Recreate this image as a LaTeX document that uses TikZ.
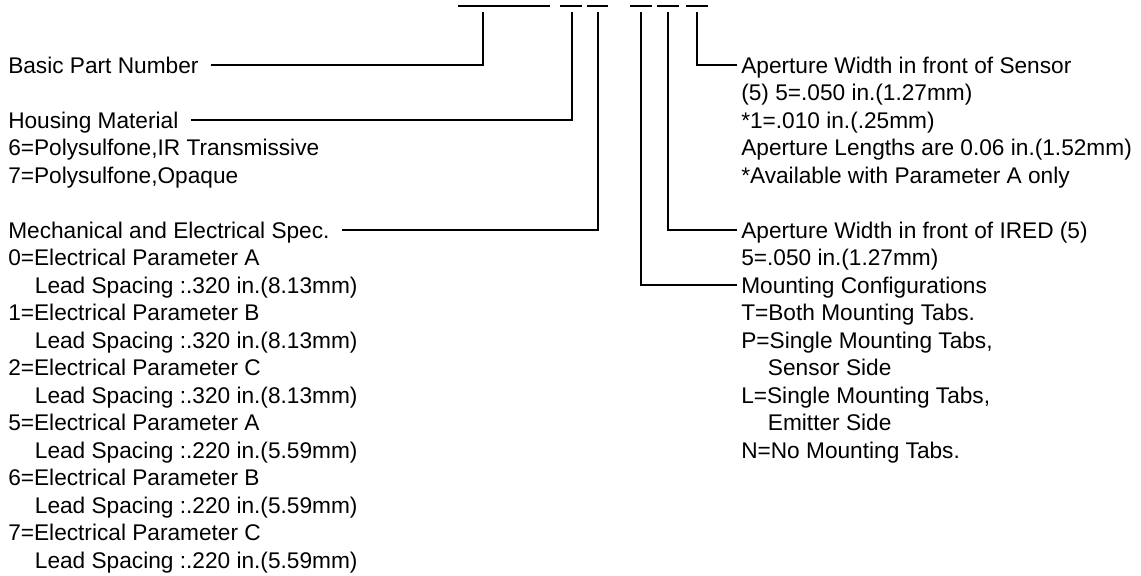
\documentclass[tikz,border=0pt]{standalone}
\usepackage{fontspec}
\setmainfont{Liberation Sans}
\usetikzlibrary{positioning}

\begin{document}
\begin{tikzpicture}[x=0.75pt,y=-0.75pt,
  lbl/.style={anchor=base west,inner sep=0pt,text height=12pt,text depth=0pt,
    font=\fontsize{17}{20.6}\selectfont},
  lead/.style={line width=1.5pt},
  bar/.style={line width=1pt}]
\useasboundingbox (0,0) rectangle (1141,575);

% part number blanks
\draw[bar] (458,6) -- (550,6);
\foreach \a/\b in {560/582,587/608,630/652,657/679,686/708}
  \draw[bar] (\a,6) -- (\b,6);

\coordinate (tBasic) at (483,12);
\coordinate (tHousing) at (572,12);
\coordinate (tMech) at (598,12);
\coordinate (tMount) at (641,12);
\coordinate (tIred) at (668,12);
\coordinate (tSensor) at (697,12);

% left column
\node[lbl] (basic) at (8,73) {Basic Part Number};
\node[lbl] (housing) at (8,128) {Housing Material};
\foreach \txt [count=\i from 3] in {{6=Polysulfone,IR Transmissive},{7=Polysulfone,Opaque}}
  \node[lbl] (h\i) at (8,73+27.5*\i) {\txt};
\node[lbl] (mech) at (8,238) {Mechanical and Electrical Spec.};
\foreach \txt [count=\i from 7] in {
  0=Electrical Parameter A,{\hspace*{20pt}Lead Spacing :.320 in.(8.13mm)},
  1=Electrical Parameter B,{\hspace*{20pt}Lead Spacing :.320 in.(8.13mm)},
  2=Electrical Parameter C,{\hspace*{20pt}Lead Spacing :.320 in.(8.13mm)},
  5=Electrical Parameter A,{\hspace*{20pt}Lead Spacing :.220 in.(5.59mm)},
  6=Electrical Parameter B,{\hspace*{20pt}Lead Spacing :.220 in.(5.59mm)},
  7=Electrical Parameter C,{\hspace*{20pt}Lead Spacing :.220 in.(5.59mm)}}
  \node[lbl] (m\i) at (8,73+27.5*\i) {\txt};

% right column
\node[lbl] (sensor) at (741,73) {Aperture Width in front of Sensor};
\foreach \txt [count=\i from 1] in {(5) 5=.050 in.(1.27mm),*1=.010 in.(.25mm),
  Aperture Lengths are 0.06 in.(1.52mm),*Available with Parameter A only}
  \node[lbl] (s\i) at (741,73+27.5*\i) {\txt};
\node[lbl] (ired) at (741,238) {Aperture Width in front of IRED (5)};
\node[lbl] (i7) at (741,265.5) {5=.050 in.(1.27mm)};
\node[lbl] (mount) at (741,293) {Mounting Configurations};
\foreach \txt [count=\i from 9] in {T=Both Mounting Tabs.,{P=Single Mounting Tabs,},
  {\hspace*{20pt}Sensor Side},{L=Single Mounting Tabs,},{\hspace*{20pt}Emitter Side},
  N=No Mounting Tabs.}
  \node[lbl] (p\i) at (741,73+27.5*\i) {\txt};

% leaders
\draw[lead] ([xshift=9pt]basic.east) -| (tBasic);
\draw[lead] ([xshift=9pt]housing.east) -| (tHousing);
\draw[lead] ([xshift=9pt]mech.east) -| (tMech);
\draw[lead] ([xshift=-3pt]sensor.west) -| (tSensor);
\draw[lead] ([xshift=-3pt]ired.west) -| (tIred);
\draw[lead] ([xshift=-3pt]mount.west) -| (tMount);
\end{tikzpicture}
\end{document}
